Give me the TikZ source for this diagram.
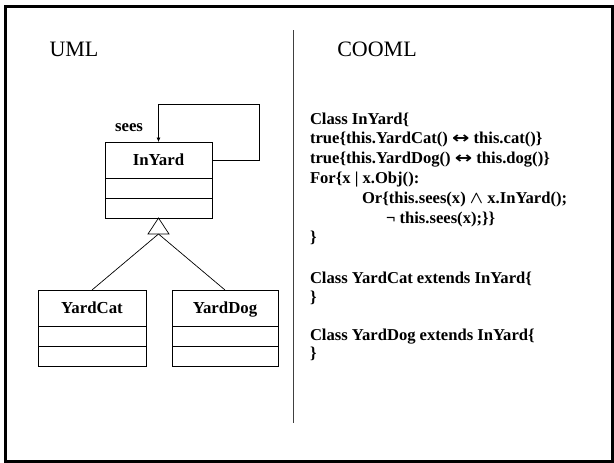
\documentclass[tikz,border=0pt]{standalone}
\usepackage{fontspec}
\usepackage{graphicx}
\setmainfont{Liberation Serif}
\newfontfamily\arrowfont{DejaVu Sans}
\newcommand{\biarrow}{\scalebox{1.3}[1]{\arrowfont\bfseries\fontsize{16}{18}\selectfont ↔}}
\usetikzlibrary{arrows.meta}
\begin{document}
\begin{tikzpicture}[x=1pt,y=-1pt,
  every node/.style={inner sep=0pt, outer sep=0pt},
  hdr/.style={draw, line width=0.8pt, minimum height=36pt, text height=11pt, text depth=0pt, font=\fontsize{16.8}{20}\selectfont\bfseries},
  cmp/.style={draw, line width=0.8pt, minimum height=20pt},
  codeline/.style={anchor=base west, font=\fontsize{16.6}{20}\selectfont\bfseries\boldmath},
  titletext/.style={font=\fontsize{22}{26}\selectfont},
  conn/.style={line width=0.7pt}]
\useasboundingbox (0,0) rectangle (614,463);
\draw[line width=3pt] (5,6) rectangle (612,461);
\draw[line width=0.8pt, black!75] (293,30) -- (293,423);

\node[titletext] (uml) at (74,49) {UML};
\node[titletext] (cooml) at (377,49) {COOML};

% InYard
\node[hdr, minimum width=107pt] (inh) at (158.5,160) {InYard};
\node[cmp, minimum width=107pt, anchor=north] (ina) at (inh.south) {};
\node[cmp, minimum width=107pt, anchor=north] (ino) at (ina.south) {};
% YardCat
\node[hdr, minimum width=108pt] (cath) at (92,308) {YardCat};
\node[cmp, minimum width=108pt, anchor=north] (cata) at (cath.south) {};
\node[cmp, minimum width=108pt, anchor=north] (cato) at (cata.south) {};
% YardDog
\node[hdr, minimum width=106pt] (dogh) at (225,308) {YardDog};
\node[cmp, minimum width=106pt, anchor=north] (doga) at (dogh.south) {};
\node[cmp, minimum width=106pt, anchor=north] (dogo) at (doga.south) {};

% self association
\coordinate (loopc) at (259,104);
\draw[conn, -{Latex[length=4.5pt,width=4pt]}] (inh.east) -| (loopc) -| (inh.north);
\node[font=\fontsize{16.8}{20}\selectfont\bfseries] (sees) at (129,128) {sees};

% generalization
\coordinate (tip) at (ino.south);
\coordinate (tbase) at ([yshift=-16pt]ino.south);
\draw[conn] (tip) -- ([xshift=-10.5pt]tbase) -- ([xshift=10.5pt]tbase) -- cycle;
\draw[conn] (tbase) -- (cath.north);
\draw[conn] (tbase) -- (dogh.north);

% COOML code
\node[codeline] (l1) at (310,124) {Class InYard\{};
\node[codeline] (l2) at (310,143.8) {true\{this.YardCat() \biarrow{} this.cat()\}};
\node[codeline] (l3) at (310,163.6) {true\{this.YardDog() \biarrow{} this.dog()\}};
\node[codeline] (l4) at (310,183.4) {For\{x | x.Obj():};
\node[codeline] (l5) at (362,203.2) {Or\{this.sees(x) $\wedge$ x.InYard();};
\node[codeline] (l6) at (386,223) {¬ this.sees(x);\}\}};
\node[codeline] (l7) at (310,242.8) {\}};
\node[codeline] (l8) at (310,283) {Class YardCat extends InYard\{};
\node[codeline] (l9) at (310,302.5) {\}};
\node[codeline] (l10) at (310,340) {Class YardDog extends InYard\{};
\node[codeline] (l11) at (310,358.5) {\}};
\end{tikzpicture}
\end{document}
